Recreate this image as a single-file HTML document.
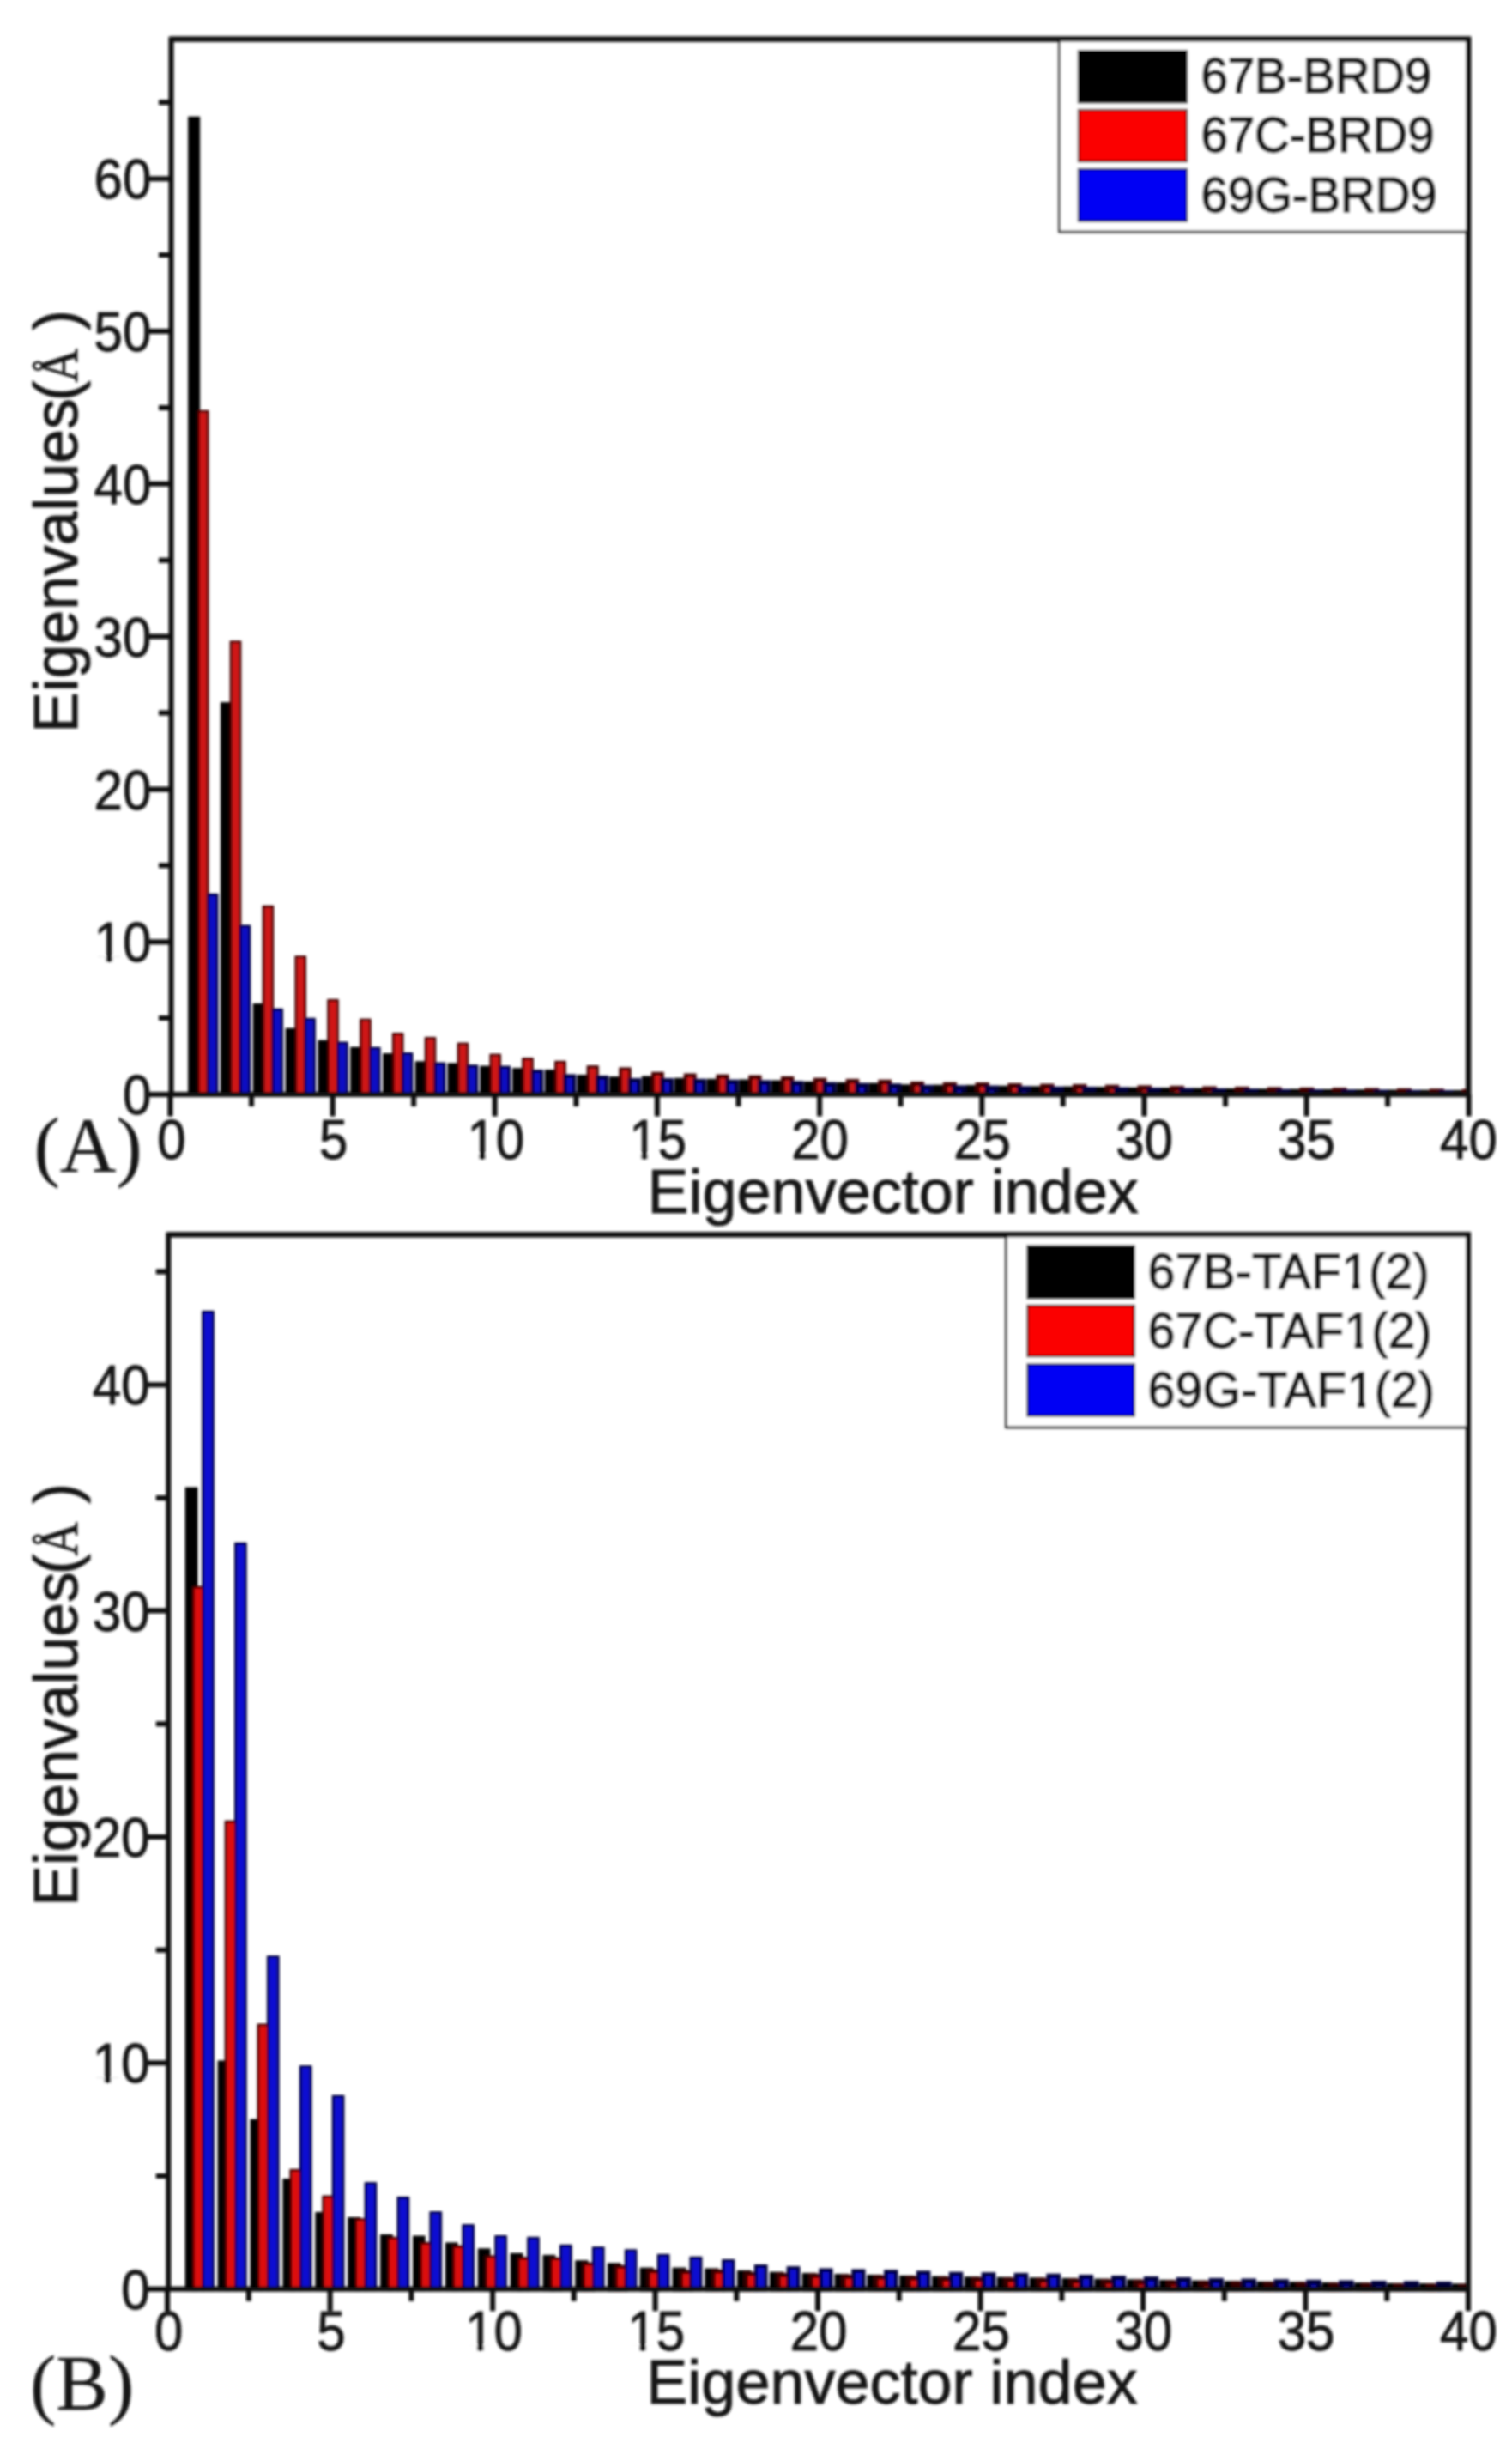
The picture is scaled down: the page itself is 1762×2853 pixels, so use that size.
<!DOCTYPE html>
<html lang="en">
<head>
<meta charset="utf-8">
<title>Eigenvalues vs eigenvector index</title>
<style>
html,body{margin:0;padding:0;background:#fff;}
body{width:1762px;height:2853px;overflow:hidden;}
svg{display:block;}
text{font-family:"Liberation Sans",sans-serif;fill:#161616;stroke:#161616;stroke-width:0.6px;stroke-linejoin:round;}
.ti{font-size:72px;stroke-width:1.0px;}
.lg{font-size:56.5px;stroke-width:1.8px;}
.lgb{letter-spacing:0.55px;}
.lga{letter-spacing:-0.15px;}
.pl{font-family:"Liberation Serif",serif;font-size:91px;stroke-width:0.3px;}
.se{font-family:"Liberation Serif",serif;font-size:63px;stroke-width:0.7px;}
.yt{font-size:71.5px;}
.tk text{font-size:60px;stroke-width:0.9px;}
</style>
</head>
<body>
<svg width="1762" height="2853" viewBox="0 0 1762 2853">
<defs><filter id="soft" x="0" y="0" width="1762" height="2853" filterUnits="userSpaceOnUse"><feGaussianBlur stdDeviation="1.6"/></filter></defs>
<rect width="1762" height="2853" fill="#fff"/>
<g filter="url(#soft)">
<g id="chartA">
<clipPath id="clipa"><rect x="199.5" y="45.6" width="1511.7" height="1232.4"/></clipPath>
<g clip-path="url(#clipa)" stroke-width="2.8">
<rect x="220.5" y="137.1" width="11.2" height="1139.0" fill="#000" stroke="#000" stroke-width="2.8"/>
<rect x="231.3" y="479.2" width="10.8" height="796.9" fill="#d01414" stroke="#400000" stroke-width="2.8"/>
<rect x="242.2" y="1042.3" width="10.8" height="233.8" fill="#0c08c4" stroke="#04003a" stroke-width="2.8"/>
<rect x="258.3" y="819.5" width="11.2" height="456.6" fill="#000" stroke="#000" stroke-width="2.8"/>
<rect x="269.1" y="747.7" width="10.8" height="528.4" fill="#d01414" stroke="#400000" stroke-width="2.8"/>
<rect x="280.0" y="1078.9" width="10.8" height="197.2" fill="#0c08c4" stroke="#04003a" stroke-width="2.8"/>
<rect x="296.1" y="1170.3" width="11.2" height="105.8" fill="#000" stroke="#000" stroke-width="2.8"/>
<rect x="307.0" y="1056.2" width="10.8" height="219.9" fill="#d01414" stroke="#400000" stroke-width="2.8"/>
<rect x="317.8" y="1176.2" width="10.8" height="99.9" fill="#0c08c4" stroke="#04003a" stroke-width="2.8"/>
<rect x="334.0" y="1199.1" width="11.2" height="77.0" fill="#000" stroke="#000" stroke-width="2.8"/>
<rect x="344.8" y="1114.7" width="10.8" height="161.4" fill="#d01414" stroke="#400000" stroke-width="2.8"/>
<rect x="355.7" y="1187.2" width="10.8" height="88.9" fill="#0c08c4" stroke="#04003a" stroke-width="2.8"/>
<rect x="371.8" y="1213.0" width="11.2" height="63.1" fill="#000" stroke="#000" stroke-width="2.8"/>
<rect x="382.6" y="1165.3" width="10.8" height="110.8" fill="#d01414" stroke="#400000" stroke-width="2.8"/>
<rect x="393.5" y="1214.9" width="10.8" height="61.2" fill="#0c08c4" stroke="#04003a" stroke-width="2.8"/>
<rect x="409.6" y="1221.0" width="11.2" height="55.1" fill="#000" stroke="#000" stroke-width="2.8"/>
<rect x="420.5" y="1188.1" width="10.8" height="88.0" fill="#d01414" stroke="#400000" stroke-width="2.8"/>
<rect x="431.3" y="1221.0" width="10.8" height="55.1" fill="#0c08c4" stroke="#04003a" stroke-width="2.8"/>
<rect x="447.5" y="1228.4" width="11.2" height="47.7" fill="#000" stroke="#000" stroke-width="2.8"/>
<rect x="458.3" y="1204.4" width="10.8" height="71.7" fill="#d01414" stroke="#400000" stroke-width="2.8"/>
<rect x="469.2" y="1227.4" width="10.8" height="48.7" fill="#0c08c4" stroke="#04003a" stroke-width="2.8"/>
<rect x="485.3" y="1237.8" width="11.2" height="38.4" fill="#000" stroke="#000" stroke-width="3.1"/>
<rect x="496.1" y="1209.4" width="10.8" height="66.7" fill="#d01414" stroke="#400000" stroke-width="2.8"/>
<rect x="507.0" y="1239.1" width="10.8" height="37.2" fill="#0c08c4" stroke="#04003a" stroke-width="3.1"/>
<rect x="523.1" y="1240.0" width="11.2" height="36.3" fill="#000" stroke="#000" stroke-width="3.2"/>
<rect x="534.0" y="1216.0" width="10.8" height="60.1" fill="#d01414" stroke="#400000" stroke-width="2.8"/>
<rect x="544.8" y="1241.9" width="10.8" height="34.5" fill="#0c08c4" stroke="#04003a" stroke-width="3.3"/>
<rect x="561.0" y="1243.3" width="11.2" height="33.1" fill="#000" stroke="#000" stroke-width="3.4"/>
<rect x="571.8" y="1229.0" width="10.8" height="47.1" fill="#d01414" stroke="#400000" stroke-width="2.8"/>
<rect x="582.6" y="1243.3" width="10.8" height="33.1" fill="#0c08c4" stroke="#04003a" stroke-width="3.4"/>
<rect x="598.8" y="1245.9" width="11.2" height="30.6" fill="#000" stroke="#000" stroke-width="3.6"/>
<rect x="609.6" y="1233.6" width="10.8" height="42.5" fill="#d01414" stroke="#400000" stroke-width="2.9"/>
<rect x="620.5" y="1248.0" width="10.8" height="28.6" fill="#0c08c4" stroke="#04003a" stroke-width="3.8"/>
<rect x="636.6" y="1248.0" width="11.2" height="28.6" fill="#000" stroke="#000" stroke-width="3.8"/>
<rect x="647.5" y="1237.3" width="10.8" height="38.9" fill="#d01414" stroke="#400000" stroke-width="3.0"/>
<rect x="658.3" y="1253.6" width="10.8" height="23.3" fill="#0c08c4" stroke="#04003a" stroke-width="4.3"/>
<rect x="674.5" y="1254.3" width="11.2" height="22.6" fill="#000" stroke="#000" stroke-width="4.4"/>
<rect x="685.3" y="1242.8" width="10.8" height="33.6" fill="#d01414" stroke="#400000" stroke-width="3.4"/>
<rect x="696.1" y="1255.3" width="10.8" height="21.7" fill="#0c08c4" stroke="#04003a" stroke-width="4.5"/>
<rect x="712.3" y="1256.4" width="11.2" height="20.6" fill="#000" stroke="#000" stroke-width="4.6"/>
<rect x="723.1" y="1245.2" width="10.8" height="31.3" fill="#d01414" stroke="#400000" stroke-width="3.6"/>
<rect x="734.0" y="1258.5" width="10.8" height="18.7" fill="#0c08c4" stroke="#04003a" stroke-width="4.8"/>
<rect x="750.1" y="1255.8" width="11.2" height="21.2" fill="#000" stroke="#000" stroke-width="4.6"/>
<rect x="761.0" y="1250.8" width="10.8" height="26.0" fill="#d01414" stroke="#400000" stroke-width="4.1"/>
<rect x="771.8" y="1258.5" width="10.8" height="18.7" fill="#0c08c4" stroke="#04003a" stroke-width="4.8"/>
<rect x="788.0" y="1258.2" width="11.2" height="18.9" fill="#000" stroke="#000" stroke-width="4.8"/>
<rect x="798.8" y="1252.6" width="10.8" height="24.2" fill="#d01414" stroke="#400000" stroke-width="4.2"/>
<rect x="809.6" y="1259.3" width="10.8" height="17.9" fill="#0c08c4" stroke="#04003a" stroke-width="4.9"/>
<rect x="825.8" y="1259.3" width="11.2" height="17.9" fill="#000" stroke="#000" stroke-width="4.9"/>
<rect x="836.6" y="1253.9" width="10.8" height="22.9" fill="#d01414" stroke="#400000" stroke-width="4.4"/>
<rect x="847.5" y="1260.2" width="10.8" height="17.0" fill="#0c08c4" stroke="#04003a" stroke-width="5.0"/>
<rect x="863.6" y="1260.0" width="11.2" height="17.2" fill="#000" stroke="#000" stroke-width="5.0"/>
<rect x="874.5" y="1254.9" width="10.8" height="22.0" fill="#d01414" stroke="#400000" stroke-width="4.5"/>
<rect x="885.3" y="1260.9" width="10.8" height="16.3" fill="#0c08c4" stroke="#04003a" stroke-width="5.1"/>
<rect x="901.5" y="1261.0" width="11.2" height="16.2" fill="#000" stroke="#000" stroke-width="5.1"/>
<rect x="912.3" y="1256.2" width="10.8" height="20.8" fill="#d01414" stroke="#400000" stroke-width="4.6"/>
<rect x="923.1" y="1261.9" width="10.8" height="15.4" fill="#0c08c4" stroke="#04003a" stroke-width="5.2"/>
<rect x="939.3" y="1262.5" width="11.2" height="14.8" fill="#000" stroke="#000" stroke-width="5.3"/>
<rect x="950.1" y="1258.1" width="10.8" height="19.0" fill="#d01414" stroke="#400000" stroke-width="4.8"/>
<rect x="961.0" y="1263.3" width="10.8" height="14.1" fill="#0c08c4" stroke="#04003a" stroke-width="5.4"/>
<rect x="977.1" y="1263.5" width="11.2" height="13.9" fill="#000" stroke="#000" stroke-width="5.4"/>
<rect x="988.0" y="1259.4" width="10.8" height="17.8" fill="#d01414" stroke="#400000" stroke-width="4.9"/>
<rect x="998.8" y="1264.3" width="10.8" height="13.2" fill="#0c08c4" stroke="#04003a" stroke-width="5.5"/>
<rect x="1015.0" y="1264.3" width="11.2" height="13.2" fill="#000" stroke="#000" stroke-width="5.5"/>
<rect x="1025.8" y="1260.3" width="10.8" height="16.9" fill="#d01414" stroke="#400000" stroke-width="5.1"/>
<rect x="1036.6" y="1265.0" width="10.8" height="12.5" fill="#0c08c4" stroke="#04003a" stroke-width="5.6"/>
<rect x="1052.8" y="1266.1" width="11.2" height="11.5" fill="#000" stroke="#000" stroke-width="5.7"/>
<rect x="1063.6" y="1262.6" width="10.8" height="14.8" fill="#d01414" stroke="#400000" stroke-width="5.3"/>
<rect x="1074.5" y="1266.7" width="10.8" height="10.9" fill="#0c08c4" stroke="#04003a" stroke-width="5.8"/>
<rect x="1090.6" y="1266.6" width="11.2" height="11.0" fill="#000" stroke="#000" stroke-width="5.8"/>
<rect x="1101.5" y="1263.4" width="10.8" height="14.0" fill="#d01414" stroke="#400000" stroke-width="5.4"/>
<rect x="1112.3" y="1267.2" width="10.8" height="10.4" fill="#0c08c4" stroke="#04003a" stroke-width="5.9"/>
<rect x="1128.5" y="1266.9" width="11.2" height="10.7" fill="#000" stroke="#000" stroke-width="5.8"/>
<rect x="1139.3" y="1263.7" width="10.8" height="13.7" fill="#d01414" stroke="#400000" stroke-width="5.4"/>
<rect x="1150.1" y="1267.5" width="10.8" height="10.1" fill="#0c08c4" stroke="#04003a" stroke-width="5.9"/>
<rect x="1166.3" y="1267.7" width="11.2" height="10.0" fill="#000" stroke="#000" stroke-width="5.9"/>
<rect x="1177.1" y="1264.7" width="10.8" height="12.8" fill="#d01414" stroke="#400000" stroke-width="5.6"/>
<rect x="1188.0" y="1268.2" width="10.8" height="9.5" fill="#0c08c4" stroke="#04003a" stroke-width="6.0"/>
<rect x="1204.1" y="1268.3" width="11.2" height="9.4" fill="#000" stroke="#000" stroke-width="6.0"/>
<rect x="1215.0" y="1265.4" width="10.8" height="12.1" fill="#d01414" stroke="#400000" stroke-width="5.7"/>
<rect x="1225.8" y="1268.8" width="10.8" height="8.9" fill="#0c08c4" stroke="#04003a" stroke-width="6.1"/>
<rect x="1242.0" y="1268.6" width="11.2" height="9.2" fill="#000" stroke="#000" stroke-width="6.0"/>
<rect x="1252.8" y="1265.8" width="10.8" height="11.7" fill="#d01414" stroke="#400000" stroke-width="5.7"/>
<rect x="1263.6" y="1269.1" width="10.8" height="8.7" fill="#0c08c4" stroke="#04003a" stroke-width="6.1"/>
<rect x="1279.8" y="1269.2" width="11.2" height="8.6" fill="#000" stroke="#000" stroke-width="6.1"/>
<rect x="1290.6" y="1266.6" width="10.8" height="11.0" fill="#d01414" stroke="#400000" stroke-width="5.8"/>
<rect x="1301.5" y="1269.6" width="10.8" height="8.2" fill="#0c08c4" stroke="#04003a" stroke-width="6.2"/>
<rect x="1317.6" y="1269.8" width="11.2" height="8.0" fill="#000" stroke="#000" stroke-width="6.2"/>
<rect x="1328.5" y="1267.3" width="10.8" height="10.3" fill="#d01414" stroke="#400000" stroke-width="5.9"/>
<rect x="1339.3" y="1270.2" width="10.8" height="7.6" fill="#0c08c4" stroke="#04003a" stroke-width="6.2"/>
<rect x="1355.5" y="1270.2" width="11.2" height="7.6" fill="#000" stroke="#000" stroke-width="6.2"/>
<rect x="1366.3" y="1267.9" width="10.8" height="9.8" fill="#d01414" stroke="#400000" stroke-width="6.0"/>
<rect x="1377.1" y="1270.6" width="10.8" height="7.2" fill="#0c08c4" stroke="#04003a" stroke-width="6.2"/>
<rect x="1393.3" y="1270.6" width="11.2" height="7.2" fill="#000" stroke="#000" stroke-width="6.2"/>
<rect x="1404.1" y="1268.5" width="10.8" height="9.2" fill="#d01414" stroke="#400000" stroke-width="6.0"/>
<rect x="1415.0" y="1271.0" width="10.8" height="6.8" fill="#0c08c4" stroke="#04003a" stroke-width="6.2"/>
<rect x="1431.1" y="1271.0" width="11.2" height="6.8" fill="#000" stroke="#000" stroke-width="6.2"/>
<rect x="1442.0" y="1269.0" width="10.8" height="8.7" fill="#d01414" stroke="#400000" stroke-width="6.1"/>
<rect x="1452.8" y="1271.3" width="10.8" height="6.5" fill="#0c08c4" stroke="#04003a" stroke-width="6.2"/>
<rect x="1469.0" y="1271.4" width="11.2" height="6.4" fill="#000" stroke="#000" stroke-width="6.2"/>
<rect x="1479.8" y="1269.6" width="10.8" height="8.2" fill="#d01414" stroke="#400000" stroke-width="6.2"/>
<rect x="1490.6" y="1271.8" width="10.8" height="6.0" fill="#0c08c4" stroke="#04003a" stroke-width="6.2"/>
<rect x="1506.8" y="1271.7" width="11.2" height="6.1" fill="#000" stroke="#000" stroke-width="6.2"/>
<rect x="1517.6" y="1270.0" width="10.8" height="7.8" fill="#d01414" stroke="#400000" stroke-width="6.2"/>
<rect x="1528.5" y="1272.0" width="10.8" height="5.8" fill="#0c08c4" stroke="#04003a" stroke-width="6.2"/>
<rect x="1544.6" y="1272.0" width="11.2" height="5.8" fill="#000" stroke="#000" stroke-width="6.2"/>
<rect x="1555.5" y="1270.3" width="10.8" height="7.5" fill="#d01414" stroke="#400000" stroke-width="6.2"/>
<rect x="1566.3" y="1272.3" width="10.8" height="5.5" fill="#0c08c4" stroke="#04003a" stroke-width="6.2"/>
<rect x="1582.5" y="1272.3" width="11.2" height="5.5" fill="#000" stroke="#000" stroke-width="6.2"/>
<rect x="1593.3" y="1270.7" width="10.8" height="7.1" fill="#d01414" stroke="#400000" stroke-width="6.2"/>
<rect x="1604.1" y="1272.5" width="10.8" height="5.3" fill="#0c08c4" stroke="#04003a" stroke-width="6.2"/>
<rect x="1620.3" y="1272.5" width="11.2" height="5.3" fill="#000" stroke="#000" stroke-width="6.2"/>
<rect x="1631.1" y="1271.0" width="10.8" height="6.8" fill="#d01414" stroke="#400000" stroke-width="6.2"/>
<rect x="1642.0" y="1272.8" width="10.8" height="5.0" fill="#0c08c4" stroke="#04003a" stroke-width="6.2"/>
<rect x="1658.1" y="1272.8" width="11.2" height="5.0" fill="#000" stroke="#000" stroke-width="6.2"/>
<rect x="1669.0" y="1271.4" width="10.8" height="6.4" fill="#d01414" stroke="#400000" stroke-width="6.2"/>
<rect x="1679.8" y="1273.1" width="10.8" height="4.7" fill="#0c08c4" stroke="#04003a" stroke-width="6.2"/>
<rect x="1696.0" y="1273.1" width="11.2" height="4.7" fill="#000" stroke="#000" stroke-width="6.2"/>
<rect x="1706.8" y="1271.8" width="10.8" height="6.0" fill="#d01414" stroke="#400000" stroke-width="6.2"/>
<rect x="1717.6" y="1273.3" width="10.8" height="4.5" fill="#0c08c4" stroke="#04003a" stroke-width="6.2"/>
</g>
<rect x="199.5" y="45.6" width="1511.7" height="1229.4" fill="none" stroke="#0a0a0a" stroke-width="6.0"/>
<path d="M174.0 1275.0H199.5M174.0 1097.2H199.5M174.0 919.4H199.5M174.0 741.6H199.5M174.0 563.8H199.5M174.0 386.0H199.5M174.0 208.2H199.5M185.0 1186.1H199.5M185.0 1008.3H199.5M185.0 830.5H199.5M185.0 652.7H199.5M185.0 474.9H199.5M185.0 297.1H199.5M185.0 119.3H199.5M198.4 1275.0V1300.5M387.6 1275.0V1300.5M576.7 1275.0V1300.5M765.9 1275.0V1300.5M955.1 1275.0V1300.5M1144.2 1275.0V1300.5M1333.4 1275.0V1300.5M1522.6 1275.0V1300.5M1711.7 1275.0V1300.5M293.0 1275.0V1289.0M482.1 1275.0V1289.0M671.3 1275.0V1289.0M860.5 1275.0V1289.0M1049.6 1275.0V1289.0M1238.8 1275.0V1289.0M1428.0 1275.0V1289.0M1617.1 1275.0V1289.0" stroke="#0a0a0a" stroke-width="6.0" fill="none"/>
<g class="tk" text-anchor="end">
<text transform="translate(176.3 1298.2) scale(1 1.08)">0</text>
<text transform="translate(176.3 1120.4) scale(1 1.08)">10</text>
<text transform="translate(176.3 942.6) scale(1 1.08)">20</text>
<text transform="translate(176.3 764.8) scale(1 1.08)">30</text>
<text transform="translate(176.3 587.0) scale(1 1.08)">40</text>
<text transform="translate(176.3 409.2) scale(1 1.08)">50</text>
<text transform="translate(176.3 231.4) scale(1 1.08)">60</text>
</g>
<g class="tk" text-anchor="middle">
<text transform="translate(199.9 1349.8) scale(1 1.08)">0</text>
<text transform="translate(388.8 1349.8) scale(1 1.08)">5</text>
<text transform="translate(577.8 1349.8) scale(1 1.08)">10</text>
<text transform="translate(766.7 1349.8) scale(1 1.08)">15</text>
<text transform="translate(955.6 1349.8) scale(1 1.08)">20</text>
<text transform="translate(1144.6 1349.8) scale(1 1.08)">25</text>
<text transform="translate(1333.5 1349.8) scale(1 1.08)">30</text>
<text transform="translate(1522.4 1349.8) scale(1 1.08)">35</text>
<text transform="translate(1711.4 1349.8) scale(1 1.08)">40</text>
</g>
<rect x="112.3" y="1114.5" width="11.2" height="8.7" fill="#fff"/><rect x="131.1" y="1114.5" width="11.4" height="8.7" fill="#fff"/>
<rect x="547.1" y="1343.9" width="11.2" height="8.7" fill="#fff"/><rect x="565.9" y="1343.9" width="11.4" height="8.7" fill="#fff"/>
<rect x="736.0" y="1343.9" width="11.2" height="8.7" fill="#fff"/><rect x="754.8" y="1343.9" width="11.4" height="8.7" fill="#fff"/>
<text class="ti" text-anchor="middle" x="1040.7" y="1413">Eigenvector index</text>
<text class="ti yt" transform="translate(89.5 853.8) rotate(-90)">Eigenvalues<tspan dx="-3">(</tspan></text>
<text class="se" transform="translate(90 445.5) rotate(-90) scale(0.87 1)">Å</text>
<text class="ti yt" transform="translate(89.5 384.8) rotate(-90)">)</text>
<text class="pl" x="39.5" y="1364.5">(A)</text>
<rect x="1234.6" y="45.6" width="476.6" height="224.4" fill="#fff" stroke="#2a2a2a" stroke-width="2.8"/>
<rect x="1257" y="59.3" width="126.0" height="60.0" fill="#000" stroke="#000" stroke-width="2.4"/>
<text class="lg lga" x="1399.5" y="108">67B-BRD9</text>
<rect x="1257" y="128" width="126.0" height="60.0" fill="#fb0000" stroke="#400000" stroke-width="2.4"/>
<text class="lg lga" x="1399.5" y="177">67C-BRD9</text>
<rect x="1257" y="197" width="126.0" height="60.5" fill="#0000f4" stroke="#04003a" stroke-width="2.4"/>
<text class="lg lga" x="1399.5" y="246.5">69G-BRD9</text>
<path d="M199.5 45.6H1711.2V1275.0" fill="none" stroke="#0a0a0a" stroke-width="6.0"/>
</g>
<g id="chartB">
<clipPath id="clipb"><rect x="196.3" y="1438.3" width="1514.7" height="1231.3999999999999"/></clipPath>
<g clip-path="url(#clipb)" stroke-width="2.8">
<rect x="217.1" y="1734.0" width="11.9" height="933.8" fill="#000" stroke="#000" stroke-width="2.8"/>
<rect x="225.1" y="1849.0" width="11.9" height="818.8" fill="#de0a0a" stroke="#380000" stroke-width="2.8"/>
<rect x="236.5" y="1528.3" width="11.9" height="1139.5" fill="#0a0ad2" stroke="#00003a" stroke-width="2.8"/>
<rect x="255.0" y="2401.8" width="11.9" height="266.0" fill="#000" stroke="#000" stroke-width="2.8"/>
<rect x="263.0" y="2122.1" width="11.9" height="545.7" fill="#de0a0a" stroke="#380000" stroke-width="2.8"/>
<rect x="274.4" y="1798.2" width="11.9" height="869.6" fill="#0a0ad2" stroke="#00003a" stroke-width="2.8"/>
<rect x="292.9" y="2470.0" width="11.9" height="197.8" fill="#000" stroke="#000" stroke-width="2.8"/>
<rect x="300.9" y="2358.9" width="11.9" height="308.9" fill="#de0a0a" stroke="#380000" stroke-width="2.8"/>
<rect x="312.3" y="2279.6" width="11.9" height="388.2" fill="#0a0ad2" stroke="#00003a" stroke-width="2.8"/>
<rect x="330.8" y="2539.5" width="11.9" height="128.3" fill="#000" stroke="#000" stroke-width="2.8"/>
<rect x="338.8" y="2528.2" width="11.9" height="139.6" fill="#de0a0a" stroke="#380000" stroke-width="2.8"/>
<rect x="350.2" y="2407.6" width="11.9" height="260.2" fill="#0a0ad2" stroke="#00003a" stroke-width="2.8"/>
<rect x="368.7" y="2578.3" width="11.9" height="89.5" fill="#000" stroke="#000" stroke-width="2.8"/>
<rect x="376.7" y="2559.0" width="11.9" height="108.8" fill="#de0a0a" stroke="#380000" stroke-width="2.8"/>
<rect x="388.1" y="2442.1" width="11.9" height="225.7" fill="#0a0ad2" stroke="#00003a" stroke-width="2.8"/>
<rect x="406.6" y="2584.3" width="11.9" height="83.5" fill="#000" stroke="#000" stroke-width="2.8"/>
<rect x="414.6" y="2585.6" width="11.9" height="82.2" fill="#de0a0a" stroke="#380000" stroke-width="2.8"/>
<rect x="426.0" y="2543.5" width="11.9" height="124.3" fill="#0a0ad2" stroke="#00003a" stroke-width="2.8"/>
<rect x="444.5" y="2604.3" width="11.9" height="63.5" fill="#000" stroke="#000" stroke-width="2.8"/>
<rect x="452.5" y="2607.2" width="11.9" height="60.6" fill="#de0a0a" stroke="#380000" stroke-width="2.8"/>
<rect x="463.9" y="2560.4" width="11.9" height="107.4" fill="#0a0ad2" stroke="#00003a" stroke-width="2.8"/>
<rect x="482.4" y="2605.9" width="11.9" height="61.9" fill="#000" stroke="#000" stroke-width="2.8"/>
<rect x="490.4" y="2613.3" width="11.9" height="54.5" fill="#de0a0a" stroke="#380000" stroke-width="2.8"/>
<rect x="501.8" y="2577.5" width="11.9" height="90.3" fill="#0a0ad2" stroke="#00003a" stroke-width="2.8"/>
<rect x="520.3" y="2613.8" width="11.9" height="54.0" fill="#000" stroke="#000" stroke-width="2.8"/>
<rect x="528.3" y="2617.2" width="11.9" height="50.6" fill="#de0a0a" stroke="#380000" stroke-width="2.8"/>
<rect x="539.7" y="2592.5" width="11.9" height="75.3" fill="#0a0ad2" stroke="#00003a" stroke-width="2.8"/>
<rect x="558.2" y="2620.7" width="11.9" height="47.1" fill="#000" stroke="#000" stroke-width="2.8"/>
<rect x="566.2" y="2628.9" width="11.9" height="39.0" fill="#de0a0a" stroke="#380000" stroke-width="3.0"/>
<rect x="577.6" y="2605.4" width="11.9" height="62.4" fill="#0a0ad2" stroke="#00003a" stroke-width="2.8"/>
<rect x="596.1" y="2626.2" width="11.9" height="41.6" fill="#000" stroke="#000" stroke-width="2.9"/>
<rect x="604.1" y="2630.8" width="11.9" height="37.1" fill="#de0a0a" stroke="#380000" stroke-width="3.1"/>
<rect x="615.5" y="2607.2" width="11.9" height="60.6" fill="#0a0ad2" stroke="#00003a" stroke-width="2.8"/>
<rect x="634.0" y="2628.4" width="11.9" height="39.5" fill="#000" stroke="#000" stroke-width="3.0"/>
<rect x="642.0" y="2631.4" width="11.9" height="36.6" fill="#de0a0a" stroke="#380000" stroke-width="3.2"/>
<rect x="653.4" y="2616.2" width="11.9" height="51.6" fill="#0a0ad2" stroke="#00003a" stroke-width="2.8"/>
<rect x="671.9" y="2634.9" width="11.9" height="33.2" fill="#000" stroke="#000" stroke-width="3.4"/>
<rect x="679.9" y="2637.4" width="11.9" height="30.8" fill="#de0a0a" stroke="#380000" stroke-width="3.6"/>
<rect x="691.3" y="2618.6" width="11.9" height="49.2" fill="#0a0ad2" stroke="#00003a" stroke-width="2.8"/>
<rect x="709.8" y="2638.2" width="11.9" height="30.0" fill="#000" stroke="#000" stroke-width="3.7"/>
<rect x="717.8" y="2640.7" width="11.9" height="27.7" fill="#de0a0a" stroke="#380000" stroke-width="3.9"/>
<rect x="729.2" y="2621.7" width="11.9" height="46.1" fill="#0a0ad2" stroke="#00003a" stroke-width="2.8"/>
<rect x="747.7" y="2643.7" width="11.9" height="24.8" fill="#000" stroke="#000" stroke-width="4.2"/>
<rect x="755.7" y="2646.0" width="11.9" height="22.6" fill="#de0a0a" stroke="#380000" stroke-width="4.4"/>
<rect x="767.1" y="2627.3" width="11.9" height="40.6" fill="#0a0ad2" stroke="#00003a" stroke-width="2.9"/>
<rect x="785.6" y="2643.7" width="11.9" height="24.8" fill="#000" stroke="#000" stroke-width="4.2"/>
<rect x="793.6" y="2646.8" width="11.9" height="21.9" fill="#de0a0a" stroke="#380000" stroke-width="4.5"/>
<rect x="805.0" y="2630.3" width="11.9" height="37.7" fill="#0a0ad2" stroke="#00003a" stroke-width="3.1"/>
<rect x="823.4" y="2644.6" width="11.9" height="24.0" fill="#000" stroke="#000" stroke-width="4.3"/>
<rect x="831.4" y="2646.2" width="11.9" height="22.4" fill="#de0a0a" stroke="#380000" stroke-width="4.4"/>
<rect x="842.8" y="2633.6" width="11.9" height="34.5" fill="#0a0ad2" stroke="#00003a" stroke-width="3.3"/>
<rect x="861.3" y="2647.1" width="11.9" height="21.6" fill="#000" stroke="#000" stroke-width="4.5"/>
<rect x="869.3" y="2649.0" width="11.9" height="19.8" fill="#de0a0a" stroke="#380000" stroke-width="4.7"/>
<rect x="880.7" y="2639.9" width="11.9" height="28.4" fill="#0a0ad2" stroke="#00003a" stroke-width="3.8"/>
<rect x="899.2" y="2649.0" width="11.9" height="19.8" fill="#000" stroke="#000" stroke-width="4.7"/>
<rect x="907.2" y="2650.4" width="11.9" height="18.4" fill="#de0a0a" stroke="#380000" stroke-width="4.9"/>
<rect x="918.6" y="2642.1" width="11.9" height="26.3" fill="#0a0ad2" stroke="#00003a" stroke-width="4.0"/>
<rect x="937.1" y="2650.4" width="11.9" height="18.4" fill="#000" stroke="#000" stroke-width="4.9"/>
<rect x="945.1" y="2651.2" width="11.9" height="17.6" fill="#de0a0a" stroke="#380000" stroke-width="5.0"/>
<rect x="956.5" y="2644.6" width="11.9" height="24.0" fill="#0a0ad2" stroke="#00003a" stroke-width="4.3"/>
<rect x="975.0" y="2651.5" width="11.9" height="17.4" fill="#000" stroke="#000" stroke-width="5.0"/>
<rect x="983.0" y="2652.4" width="11.9" height="16.6" fill="#de0a0a" stroke="#380000" stroke-width="5.1"/>
<rect x="994.4" y="2645.7" width="11.9" height="22.9" fill="#0a0ad2" stroke="#00003a" stroke-width="4.4"/>
<rect x="1012.9" y="2652.6" width="11.9" height="16.3" fill="#000" stroke="#000" stroke-width="5.1"/>
<rect x="1020.9" y="2653.2" width="11.9" height="15.8" fill="#de0a0a" stroke="#380000" stroke-width="5.2"/>
<rect x="1032.3" y="2646.5" width="11.9" height="22.1" fill="#0a0ad2" stroke="#00003a" stroke-width="4.5"/>
<rect x="1050.8" y="2653.5" width="11.9" height="15.5" fill="#000" stroke="#000" stroke-width="5.2"/>
<rect x="1058.8" y="2654.0" width="11.9" height="15.0" fill="#de0a0a" stroke="#380000" stroke-width="5.3"/>
<rect x="1070.2" y="2647.6" width="11.9" height="21.1" fill="#0a0ad2" stroke="#00003a" stroke-width="4.6"/>
<rect x="1088.7" y="2654.3" width="11.9" height="14.7" fill="#000" stroke="#000" stroke-width="5.3"/>
<rect x="1096.7" y="2654.9" width="11.9" height="14.2" fill="#de0a0a" stroke="#380000" stroke-width="5.4"/>
<rect x="1108.1" y="2649.0" width="11.9" height="19.8" fill="#0a0ad2" stroke="#00003a" stroke-width="4.7"/>
<rect x="1126.6" y="2654.9" width="11.9" height="14.2" fill="#000" stroke="#000" stroke-width="5.4"/>
<rect x="1134.6" y="2655.4" width="11.9" height="13.7" fill="#de0a0a" stroke="#380000" stroke-width="5.4"/>
<rect x="1146.0" y="2649.6" width="11.9" height="19.2" fill="#0a0ad2" stroke="#00003a" stroke-width="4.8"/>
<rect x="1164.5" y="2655.4" width="11.9" height="13.7" fill="#000" stroke="#000" stroke-width="5.4"/>
<rect x="1172.5" y="2656.0" width="11.9" height="13.2" fill="#de0a0a" stroke="#380000" stroke-width="5.5"/>
<rect x="1183.9" y="2650.4" width="11.9" height="18.4" fill="#0a0ad2" stroke="#00003a" stroke-width="4.9"/>
<rect x="1202.4" y="2656.0" width="11.9" height="13.2" fill="#000" stroke="#000" stroke-width="5.5"/>
<rect x="1210.4" y="2656.5" width="11.9" height="12.6" fill="#de0a0a" stroke="#380000" stroke-width="5.6"/>
<rect x="1221.8" y="2651.2" width="11.9" height="17.6" fill="#0a0ad2" stroke="#00003a" stroke-width="5.0"/>
<rect x="1240.3" y="2656.7" width="11.9" height="12.5" fill="#000" stroke="#000" stroke-width="5.6"/>
<rect x="1248.3" y="2657.3" width="11.9" height="12.0" fill="#de0a0a" stroke="#380000" stroke-width="5.7"/>
<rect x="1259.7" y="2652.6" width="11.9" height="16.4" fill="#0a0ad2" stroke="#00003a" stroke-width="5.1"/>
<rect x="1278.2" y="2657.5" width="11.9" height="11.8" fill="#000" stroke="#000" stroke-width="5.7"/>
<rect x="1286.2" y="2658.0" width="11.9" height="11.3" fill="#de0a0a" stroke="#380000" stroke-width="5.8"/>
<rect x="1297.6" y="2653.7" width="11.9" height="15.4" fill="#0a0ad2" stroke="#00003a" stroke-width="5.2"/>
<rect x="1316.1" y="2658.2" width="11.9" height="11.1" fill="#000" stroke="#000" stroke-width="5.8"/>
<rect x="1324.1" y="2658.7" width="11.9" height="10.6" fill="#de0a0a" stroke="#380000" stroke-width="5.8"/>
<rect x="1335.5" y="2654.7" width="11.9" height="14.4" fill="#0a0ad2" stroke="#00003a" stroke-width="5.4"/>
<rect x="1354.0" y="2658.9" width="11.9" height="10.5" fill="#000" stroke="#000" stroke-width="5.9"/>
<rect x="1362.0" y="2659.4" width="11.9" height="10.0" fill="#de0a0a" stroke="#380000" stroke-width="5.9"/>
<rect x="1373.4" y="2655.7" width="11.9" height="13.4" fill="#0a0ad2" stroke="#00003a" stroke-width="5.5"/>
<rect x="1391.9" y="2659.6" width="11.9" height="9.8" fill="#000" stroke="#000" stroke-width="6.0"/>
<rect x="1399.9" y="2660.1" width="11.9" height="9.3" fill="#de0a0a" stroke="#380000" stroke-width="6.0"/>
<rect x="1411.3" y="2656.7" width="11.9" height="12.5" fill="#0a0ad2" stroke="#00003a" stroke-width="5.6"/>
<rect x="1429.8" y="2660.3" width="11.9" height="9.2" fill="#000" stroke="#000" stroke-width="6.0"/>
<rect x="1437.8" y="2660.8" width="11.9" height="8.7" fill="#de0a0a" stroke="#380000" stroke-width="6.1"/>
<rect x="1449.2" y="2657.4" width="11.9" height="11.8" fill="#0a0ad2" stroke="#00003a" stroke-width="5.7"/>
<rect x="1467.7" y="2660.9" width="11.9" height="8.6" fill="#000" stroke="#000" stroke-width="6.1"/>
<rect x="1475.7" y="2661.4" width="11.9" height="8.1" fill="#de0a0a" stroke="#380000" stroke-width="6.2"/>
<rect x="1487.1" y="2658.1" width="11.9" height="11.2" fill="#0a0ad2" stroke="#00003a" stroke-width="5.8"/>
<rect x="1505.6" y="2661.3" width="11.9" height="8.2" fill="#000" stroke="#000" stroke-width="6.2"/>
<rect x="1513.6" y="2661.8" width="11.9" height="7.7" fill="#de0a0a" stroke="#380000" stroke-width="6.2"/>
<rect x="1525.0" y="2658.8" width="11.9" height="10.5" fill="#0a0ad2" stroke="#00003a" stroke-width="5.9"/>
<rect x="1543.5" y="2661.9" width="11.9" height="7.6" fill="#000" stroke="#000" stroke-width="6.2"/>
<rect x="1551.5" y="2662.4" width="11.9" height="7.1" fill="#de0a0a" stroke="#380000" stroke-width="6.2"/>
<rect x="1562.9" y="2659.5" width="11.9" height="9.9" fill="#0a0ad2" stroke="#00003a" stroke-width="5.9"/>
<rect x="1581.4" y="2662.2" width="11.9" height="7.3" fill="#000" stroke="#000" stroke-width="6.2"/>
<rect x="1589.4" y="2662.7" width="11.9" height="6.8" fill="#de0a0a" stroke="#380000" stroke-width="6.2"/>
<rect x="1600.8" y="2660.1" width="11.9" height="9.3" fill="#0a0ad2" stroke="#00003a" stroke-width="6.0"/>
<rect x="1619.3" y="2662.8" width="11.9" height="6.7" fill="#000" stroke="#000" stroke-width="6.2"/>
<rect x="1627.3" y="2663.3" width="11.9" height="6.2" fill="#de0a0a" stroke="#380000" stroke-width="6.2"/>
<rect x="1638.7" y="2660.5" width="11.9" height="8.9" fill="#0a0ad2" stroke="#00003a" stroke-width="6.1"/>
<rect x="1657.2" y="2663.1" width="11.9" height="6.4" fill="#000" stroke="#000" stroke-width="6.2"/>
<rect x="1665.2" y="2663.6" width="11.9" height="5.9" fill="#de0a0a" stroke="#380000" stroke-width="6.2"/>
<rect x="1676.6" y="2661.1" width="11.9" height="8.3" fill="#0a0ad2" stroke="#00003a" stroke-width="6.2"/>
<rect x="1695.1" y="2663.4" width="11.9" height="6.1" fill="#000" stroke="#000" stroke-width="6.2"/>
<rect x="1703.1" y="2663.9" width="11.9" height="5.6" fill="#de0a0a" stroke="#380000" stroke-width="6.2"/>
<rect x="1714.5" y="2661.5" width="11.9" height="8.0" fill="#0a0ad2" stroke="#00003a" stroke-width="6.2"/>
</g>
<rect x="196.3" y="1438.3" width="1514.7" height="1228.4" fill="none" stroke="#0a0a0a" stroke-width="6.0"/>
<path d="M170.8 2666.7H196.3M170.8 2403.3H196.3M170.8 2140.0H196.3M170.8 1876.6H196.3M170.8 1613.3H196.3M181.8 2535.0H196.3M181.8 2271.7H196.3M181.8 2008.3H196.3M181.8 1745.0H196.3M181.8 1481.6H196.3M195.1 2666.7V2692.2M384.6 2666.7V2692.2M574.1 2666.7V2692.2M763.6 2666.7V2692.2M953.0 2666.7V2692.2M1142.5 2666.7V2692.2M1332.0 2666.7V2692.2M1521.5 2666.7V2692.2M1711.0 2666.7V2692.2M289.8 2666.7V2680.7M479.3 2666.7V2680.7M668.8 2666.7V2680.7M858.3 2666.7V2680.7M1047.8 2666.7V2680.7M1237.3 2666.7V2680.7M1426.8 2666.7V2680.7M1616.2 2666.7V2680.7" stroke="#0a0a0a" stroke-width="6.0" fill="none"/>
<g class="tk" text-anchor="end">
<text transform="translate(174.5 2689.9) scale(1 1.08)">0</text>
<text transform="translate(174.5 2426.5) scale(1 1.08)">10</text>
<text transform="translate(174.5 2163.2) scale(1 1.08)">20</text>
<text transform="translate(174.5 1899.8) scale(1 1.08)">30</text>
<text transform="translate(174.5 1636.5) scale(1 1.08)">40</text>
</g>
<g class="tk" text-anchor="middle">
<text transform="translate(196.7 2738.0) scale(1 1.08)">0</text>
<text transform="translate(386.0 2738.0) scale(1 1.08)">5</text>
<text transform="translate(575.4 2738.0) scale(1 1.08)">10</text>
<text transform="translate(764.7 2738.0) scale(1 1.08)">15</text>
<text transform="translate(954.0 2738.0) scale(1 1.08)">20</text>
<text transform="translate(1143.4 2738.0) scale(1 1.08)">25</text>
<text transform="translate(1332.7 2738.0) scale(1 1.08)">30</text>
<text transform="translate(1522.0 2738.0) scale(1 1.08)">35</text>
<text transform="translate(1711.4 2738.0) scale(1 1.08)">40</text>
</g>
<rect x="110.5" y="2420.6" width="11.2" height="8.7" fill="#fff"/><rect x="129.3" y="2420.6" width="11.4" height="8.7" fill="#fff"/>
<rect x="544.7" y="2732.1" width="11.2" height="8.7" fill="#fff"/><rect x="563.5" y="2732.1" width="11.4" height="8.7" fill="#fff"/>
<rect x="734.0" y="2732.1" width="11.2" height="8.7" fill="#fff"/><rect x="752.8" y="2732.1" width="11.4" height="8.7" fill="#fff"/>
<text class="ti" text-anchor="middle" x="1039.5" y="2799.5">Eigenvector index</text>
<text class="ti yt" transform="translate(89.5 2220.8) rotate(-90)">Eigenvalues<tspan dx="-3">(</tspan></text>
<text class="se" transform="translate(90 1812.5) rotate(-90) scale(0.87 1)">Å</text>
<text class="ti yt" transform="translate(89.5 1751.8) rotate(-90)">)</text>
<text class="pl" x="35.0" y="2807.2">(B)</text>
<rect x="1172.5" y="1438.3" width="538.5" height="224.5" fill="#fff" stroke="#2a2a2a" stroke-width="2.8"/>
<rect x="1197.5" y="1451.7" width="124.2" height="60.7" fill="#000" stroke="#000" stroke-width="2.4"/>
<text class="lg lgb" x="1337.7" y="1500.5">67B-TAF1(2)</text>
<rect x="1565.1" y="1494.4" width="10.6" height="9.8" fill="#fff"/><rect x="1584.5" y="1494.4" width="10.7" height="9.8" fill="#fff"/>
<rect x="1197.5" y="1521" width="124.2" height="59.0" fill="#fb0000" stroke="#380000" stroke-width="2.4"/>
<text class="lg lgb" x="1337.7" y="1569.7">67C-TAF1(2)</text>
<rect x="1568.2" y="1563.6" width="10.6" height="9.8" fill="#fff"/><rect x="1587.7" y="1563.6" width="10.7" height="9.8" fill="#fff"/>
<rect x="1197.5" y="1589.4" width="124.2" height="59.9" fill="#0000f4" stroke="#00003a" stroke-width="2.4"/>
<text class="lg lgb" x="1337.7" y="1639">69G-TAF1(2)</text>
<rect x="1571.3" y="1632.9" width="10.6" height="9.8" fill="#fff"/><rect x="1590.8" y="1632.9" width="10.7" height="9.8" fill="#fff"/>
<path d="M196.3 1438.3H1711.0V2666.7" fill="none" stroke="#0a0a0a" stroke-width="6.0"/>
</g>
</g>
</svg>
</body>
</html>
